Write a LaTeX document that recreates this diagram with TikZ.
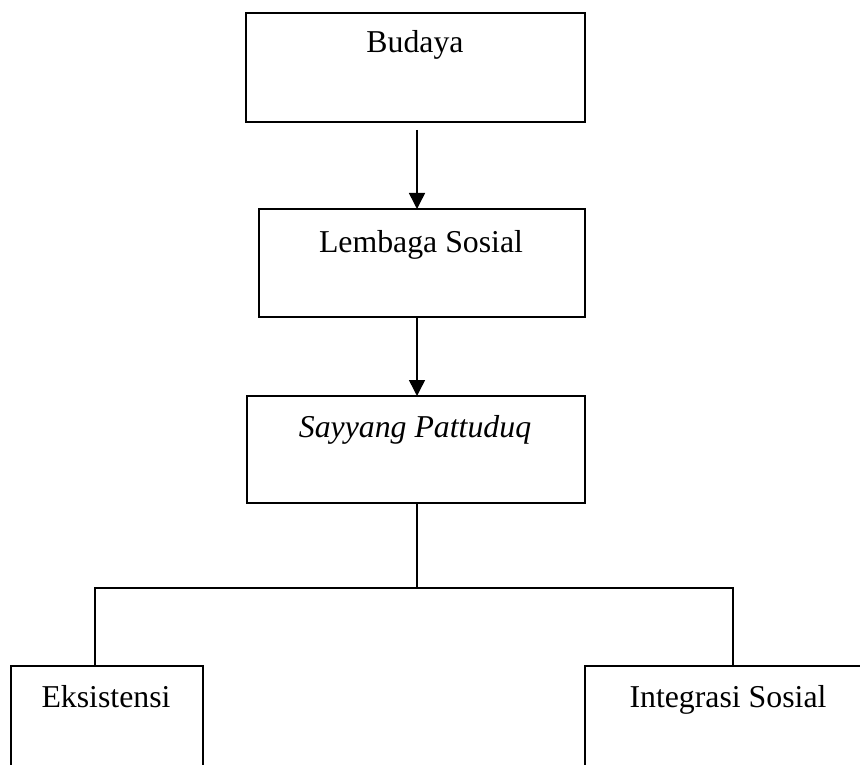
\documentclass[tikz,border=0pt]{standalone}
\usepackage{fontspec}
\setmainfont{Liberation Serif}
\usetikzlibrary{arrows.meta}
\tikzset{
  boxnode/.style={draw, line width=1.5pt, inner sep=0pt, outer sep=0pt},
  txt/.style={anchor=base, inner sep=0pt, font=\fontsize{31.8}{38}\selectfont},
  conn/.style={line width=1.5pt},
  arr/.style={line width=1.5pt, -{Triangle[length=16pt,width=16pt]}}
}
\begin{document}
\begin{tikzpicture}[x=1pt,y=-1pt]
\useasboundingbox (0,0) rectangle (860,765);
\clip (0,0) rectangle (860,765);
\fill[white] (0,0) rectangle (860,765);
% boxes
\node[boxnode, minimum width=339pt, minimum height=109pt] (b1) at (415.5,67.5) {};
\node[boxnode, minimum width=326pt, minimum height=108pt] (b2) at (422,263) {};
\node[boxnode, minimum width=338pt, minimum height=107pt] (b3) at (416,449.5) {};
\node[boxnode, minimum width=192pt, minimum height=124pt] (b4) at (107,728) {};
\node[boxnode, minimum width=315pt, minimum height=124pt] (b5) at (742.5,728) {};
% texts
\node[txt] (t1) at (415,53) {Budaya};
\node[txt] (t2) at (421,252) {Lembaga Sosial};
\node[txt] (t3) at (415,437) {\itshape Sayyang Pattuduq};
\node[txt] (t4) at (106,707) {Eksistensi};
\node[txt] (t5) at (728,707) {Integrasi Sosial};
% helper coordinates
\coordinate (ax) at (417,0);
\coordinate (lx) at (95,0);
\coordinate (rx) at (733,0);
\coordinate (hb) at (417,588);
% connectors
\draw[arr] ([yshift=-8pt]b1.south -| ax) -- (b2.north -| ax);
\draw[arr] (b2.south -| ax) -- (b3.north -| ax);
\draw[conn] (b3.south -| ax) -- (ax |- hb);
\draw[conn] (b4.north -| lx) -- (lx |- hb) -- (rx |- hb) -- (b5.north -| rx);
\end{tikzpicture}
\end{document}
